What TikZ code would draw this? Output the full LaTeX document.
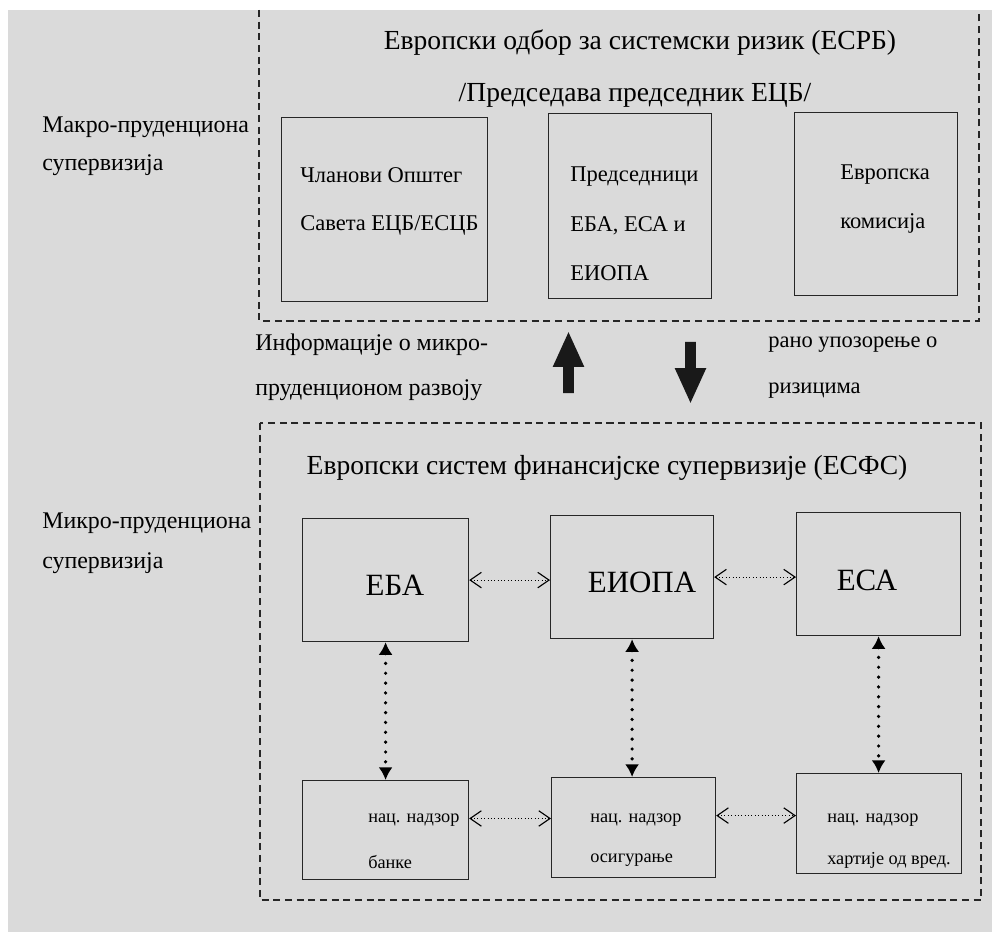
\documentclass[tikz,border=0pt]{standalone}
\usepackage{fontspec}
\setmainfont{Liberation Serif}
\usetikzlibrary{arrows.meta,positioning,shapes.arrows}
\definecolor{scangray}{RGB}{218,218,218}
\tikzset{
    frame/.style={
           draw=black!85, thick,
           dash pattern=on 5pt off 3.3pt
           },
    body/.style={
           rectangle,
           draw=black!85, thick,
           anchor=north west
           },
    txt/.style={
           anchor=west,
           inner sep=0pt,
           font=\fontsize{16}{19}\selectfont
           },
    side/.style={
           txt,
           font=\fontsize{17}{20}\selectfont
           },
    small/.style={
           txt,
           font=\fontsize{13}{16}\selectfont
           },
    head/.style={
           inner sep=0pt,
           font=\fontsize{19.6}{23}\selectfont
           },
    big/.style={
           inner sep=0pt,
           font=\fontsize{22}{26}\selectfont
           },
    hlink/.style={
           thin, dotted,
           {Straight Barb[length=8pt,width=11pt,line width=0.8pt]}-{Straight Barb[length=8pt,width=11pt,line width=0.8pt]}
           },
    vlink/.style={
           line width=2.6pt, line cap=round,
           dash pattern=on 0pt off 7pt,
           {Latex[length=9pt,width=10pt]}-{Latex[length=9pt,width=10pt]}
           },
    block/.style={
           single arrow, fill=black!90,
           inner sep=3.55pt,
           single arrow head extend=7.5pt,
           single arrow head indent=0pt,
           single arrow tip angle=49,
           minimum height=1.525cm
           }
}

\begin{document}
\begin{tikzpicture}[x=0.025cm, y=-0.025cm]
   % background of the scan
   \fill[white] (0,0) rectangle (992,932);
   \fill[scangray] (8,10) rectangle (992,932);
   \useasboundingbox (0,0) rectangle (992,932);

   % macro level
   \draw[frame] (259,10) |- (979,321) -- (979,10);
   \node[head] (esrb)   at (640,43) {Европски одбор за системски ризик (ЕСРБ)};
   \node[head] (pred)   at (635,95) {/Председава председник ЕЦБ/};
   \node[side] (makro)  at (42,127) {Макро-пруденциона};
   \node[side] (makro2) at (42,165) {супервизија};

   \node[body, minimum width=5.15cm,  minimum height=4.6cm]   (clan) at (281,117) {};
   \node[body, minimum width=4.075cm, minimum height=4.625cm] (pres) at (548,113) {};
   \node[body, minimum width=4.075cm, minimum height=4.575cm] (kom)  at (794,112) {};
   \node[txt] (clan1) at (300,175) {Чланови Општег};
   \node[txt] (clan2) at (300,225) {Савета ЕЦБ/ЕСЦБ};
   \node[txt] (pres1) at (570,177) {Председници};
   \node[txt] (pres2) at (570,226) {ЕБА, ЕСА и};
   \node[txt] (pres3) at (570,273) {ЕИОПА};
   \node[txt] (kom1)  at (840,175) {Европска};
   \node[txt] (kom2)  at (840,223) {комисија};

   % flows between the two levels
   \node[side] (info1) at (255,345) {Информације о микро-};
   \node[side] (info2) at (255,390) {пруденционом развоју};
   \node[block, shape border rotate=90]  (up)   at (568.5,368.5) {};
   \node[block, shape border rotate=270] (down) at (690.5,366.5) {};
   \node[txt] (rano1) at (768,345) {рано упозорење о};
   \node[txt] (rano2) at (768,391) {ризицима};

   % micro level
   \draw[frame] (260,423) rectangle (981,900);
   \node[head] (esfs)   at (607,468) {Европски систем финансијске супервизије (ЕСФС)};
   \node[side] (mikro)  at (42,523) {Микро-пруденциона};
   \node[side] (mikro2) at (42,563) {супервизија};

   \node[body, minimum width=4.15cm,  minimum height=3.075cm] (eba)   at (302,518) {};
   \node[body, minimum width=4.075cm, minimum height=3.075cm] (eiopa) at (550,515) {};
   \node[body, minimum width=4.1cm,   minimum height=3.075cm] (esa)   at (796,512) {};
   \node[big] (eba1)   at (395,585) {ЕБА};
   \node[big] (eiopa1) at (642,582) {ЕИОПА};
   \node[big] (esa1)   at (867,580) {ЕСА};

   \node[body, minimum width=4.15cm,  minimum height=2.475cm] (nb)  at (302,780) {};
   \node[body, minimum width=4.1cm,   minimum height=2.5cm]   (nos) at (551,777) {};
   \node[body, minimum width=4.125cm, minimum height=2.5cm]   (nh)  at (796,773) {};
   \node[small] (nb1)  at (368,820) {нац. надзор};
   \node[small] (nb2)  at (368,862) {банке};
   \node[small] (nos1) at (590,820) {нац. надзор};
   \node[small] (nos2) at (590,860) {осигурање};
   \node[small] (nh1)  at (827,820) {нац. надзор};
   \node[small] (nh2)  at (827,860) {хартије од вред.};

   \path[hlink]
    (eba.east)   edge (eba.east -| eiopa.west)
    (eiopa.east) edge (eiopa.east -| esa.west)
    ([yshift=0.29cm]nb.east)  edge ([yshift=0.29cm]nb.east -| nos.west)
    ([yshift=0.3cm]nos.east)  edge ([yshift=0.3cm]nos.east -| nh.west)
    ;
   \path[vlink]
    (eba.south)   edge (eba.south |- nb.north)
    (eiopa.south) edge (eiopa.south |- nos.north)
    (esa.south)   edge (esa.south |- nh.north)
    ;
\end{tikzpicture}
\end{document}
